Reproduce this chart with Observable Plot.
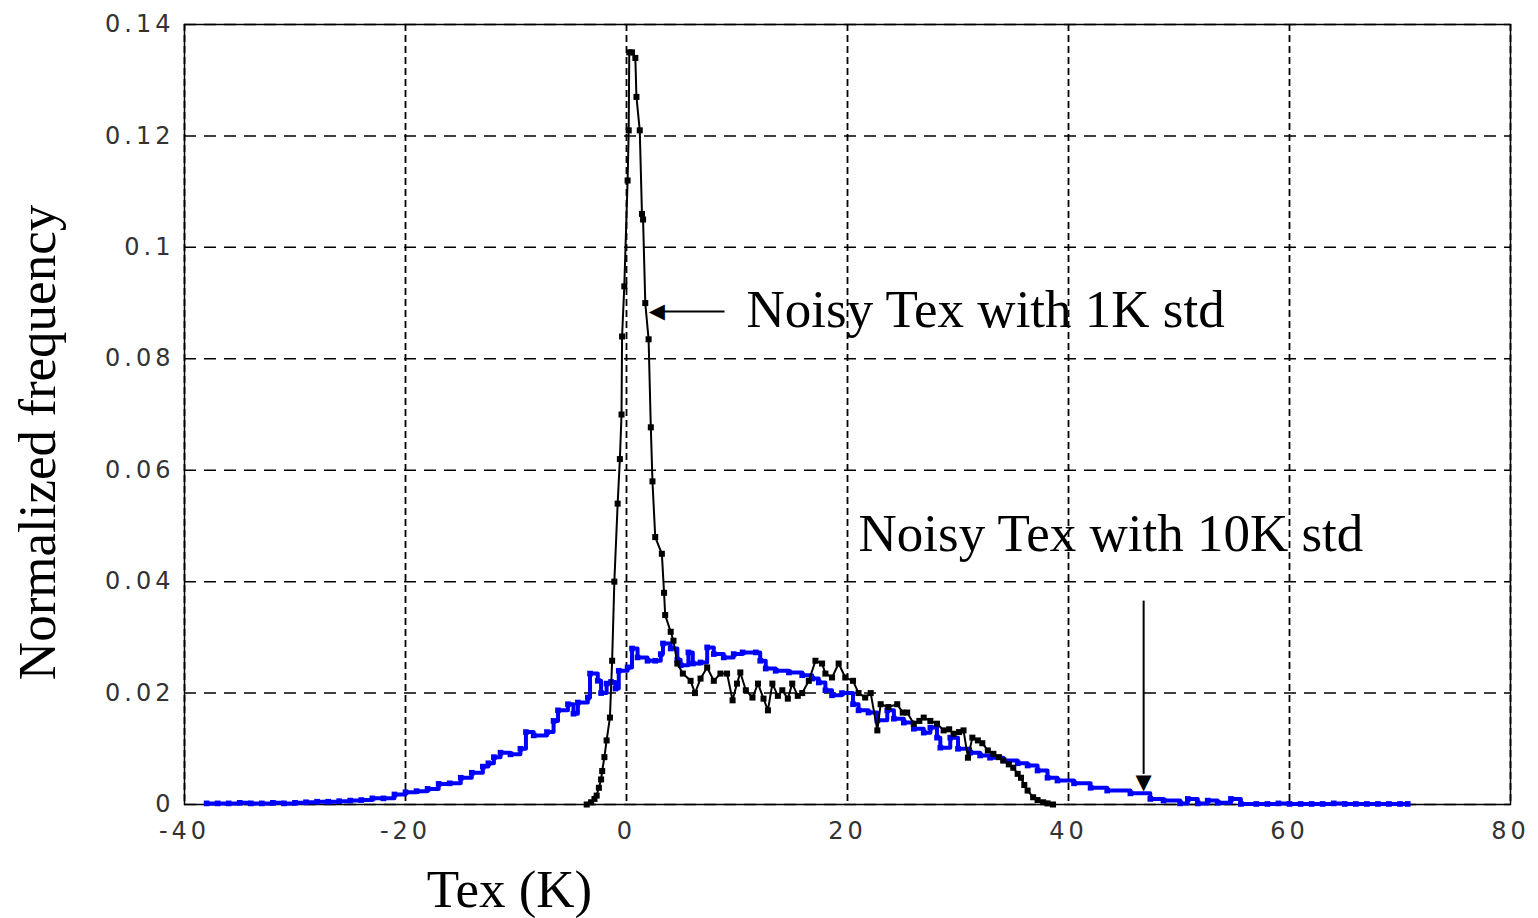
<!DOCTYPE html>
<html>
<head>
<meta charset="utf-8">
<script src="https://cdn.jsdelivr.net/npm/d3@7"></script>
<script src="https://cdn.jsdelivr.net/npm/@observablehq/plot@0.6"></script>
<style>
  html, body { margin: 0; padding: 0; background: #fff; }
  #chart svg { display: block; }
  g[aria-label="x-axis tick label"] text, g[aria-label="y-axis tick label"] text { letter-spacing: 4px; }
</style>
</head>
<body>
<div id="chart"></div>
<script>
// ---- data ----
const xTicks = [-40, -20, 0, 20, 40, 60, 80];
const yTicks = [0, 0.02, 0.04, 0.06, 0.08, 0.1, 0.12, 0.14];

// Noisy Tex with 1K std (black)
const blackX = [-3.6,-3.2,-2.9,-2.7,-2.5,-2.3,-2.2,-2.0,-1.8,-1.5,-1.3,-1.1,-0.8,-0.6,-0.45,-0.4,-0.2,0.1,0.2,0.25,0.5,0.8,0.9,1.2,1.4,1.5,1.7,2.0,2.2,2.35,2.6,3.2,3.4,3.5,4.0,4.25,4.6,5.1,5.8,6.2,6.7,7.3,7.9,8.5,9.1,9.6,10.0,10.3,10.8,11.4,11.9,12.4,12.8,13.2,13.7,14.1,14.6,15.0,15.5,15.9,16.5,17.1,17.7,18.0,18.6,19.2,19.8,20.5,21.0,21.6,22.1,22.7,23.0,23.7,24.5,25.0,25.4,26.0,26.5,26.9,27.5,28.1,28.7,29.2,29.6,30.1,30.5,30.9,31.3,31.8,32.2,32.7,33.2,33.7,34.1,34.6,35.0,35.4,35.7,36.0,36.3,36.8,37.2,37.7,38.1,38.6];
const blackY = [0,0.0004,0.001,0.0016,0.003,0.0045,0.006,0.0085,0.0115,0.0156,0.0258,0.040,0.054,0.062,0.070,0.084,0.093,0.112,0.121,0.135,0.135,0.134,0.127,0.121,0.106,0.105,0.090,0.0835,0.0677,0.058,0.048,0.045,0.038,0.034,0.031,0.0294,0.0253,0.0235,0.0222,0.020,0.0226,0.0246,0.0222,0.0235,0.0235,0.0187,0.0217,0.0237,0.0205,0.0192,0.0217,0.019,0.0169,0.0217,0.0195,0.0205,0.019,0.0217,0.0195,0.020,0.0222,0.0258,0.0253,0.0235,0.0228,0.0253,0.0228,0.0222,0.020,0.0192,0.020,0.0133,0.018,0.0175,0.018,0.0165,0.0165,0.0145,0.015,0.0156,0.015,0.0145,0.0133,0.0135,0.0127,0.013,0.0133,0.0084,0.012,0.0115,0.011,0.0097,0.0091,0.0085,0.0079,0.0072,0.0066,0.0055,0.0048,0.0035,0.0025,0.0013,0.0008,0.0004,0.0002,0];

// Noisy Tex with 10K std (blue)
const blueX = [-38,-37,-36,-35,-34,-33,-32,-31,-30,-29,-28,-27,-26,-25,-24,-23,-22,-21,-20,-19,-18,-17,-16,-15,-14,-13,-12.5,-12,-11.4,-10.5,-9.6,-9.1,-8.4,-7.2,-6.6,-6.2,-5.3,-4.8,-4.4,-3.5,-3.3,-2.6,-2.3,-1.8,-1.4,-1.0,-0.7,0.1,0.5,1.0,1.9,2.6,3.1,3.3,4.0,4.6,4.9,5.6,6.0,6.7,7.3,7.9,8.8,9.7,10.5,11.7,12.1,12.6,13.5,14.7,15.9,16.8,17.4,18.0,18.6,19.5,20.5,21.0,21.9,22.7,23.6,24.2,25.1,26.0,26.9,27.5,28.1,28.4,29.3,30.0,31.1,32.0,32.9,34.1,35.4,36.3,37.2,38.1,39.0,40.5,42,43.5,45.6,47.4,48.6,50.1,50.8,51.7,52.6,53.5,54.7,55.6,57,58,59,60,61,62,63,64,65,66,67,68,69,70,70.7];
const blueY = [0.0002,0.0002,0.0002,0.0003,0.0002,0.0002,0.0003,0.0002,0.0003,0.0004,0.0005,0.0005,0.0006,0.0007,0.0008,0.0011,0.0011,0.0018,0.0022,0.0024,0.0028,0.0037,0.0038,0.0048,0.0057,0.0068,0.0074,0.0085,0.0093,0.009,0.0100,0.013,0.0124,0.013,0.015,0.0169,0.018,0.0163,0.0183,0.0192,0.0235,0.0222,0.020,0.0217,0.022,0.0208,0.024,0.0246,0.028,0.0264,0.0258,0.0258,0.027,0.0289,0.028,0.026,0.025,0.0273,0.0253,0.0255,0.0282,0.027,0.0264,0.027,0.0273,0.0273,0.0258,0.0244,0.024,0.0237,0.0232,0.0226,0.0219,0.0205,0.0196,0.020,0.018,0.0169,0.0165,0.0151,0.0169,0.0154,0.0147,0.0136,0.0129,0.0138,0.012,0.0102,0.012,0.010,0.0093,0.0088,0.0084,0.0079,0.0074,0.007,0.0061,0.0048,0.0043,0.0038,0.003,0.0025,0.002,0.001,0.0007,0.0002,0.001,0.0002,0.0007,0.0003,0.001,0.0001,0.0001,0.0001,0.0002,0.0001,0.0001,0.0001,0.0001,0.0002,0.0001,0.0001,0.0001,0.0001,0.0001,0.0001,0.0001];

// annotations (data coordinates)
const notes = [
  {x: 10.86, y: 0.0887, label: "Noisy Tex with 1K std"},
  {x: 21.0, y: 0.0486, label: "Noisy Tex with 10K std"}
];
const arrowShafts = [
  {x1: 8.87, y1: 0.0885, x2: 3.0, y2: 0.0885},
  {x1: 46.8, y1: 0.0366, x2: 46.8, y2: 0.0055}
];
const arrowHeads = [
  {x: 2.75, y: 0.0885, glyph: "◀"},
  {x: 46.8, y: 0.0040, glyph: "▼"}
];

const black = blackX.map((x, i) => ({x, y: blackY[i]}));
const blue = blueX.map((x, i) => ({x, y: blueY[i]}));

const serif = "'Liberation Serif', 'Times New Roman', serif";

const chart = Plot.plot({
  width: 1538,
  height: 918,
  marginLeft: 184,
  marginRight: 28,
  marginTop: 24,
  marginBottom: 114,
  style: {fontFamily: "'DejaVu Sans', sans-serif", fontSize: "24px", color: "#333", background: "#fff", overflow: "visible"},
  x: {domain: [-40, 80], ticks: xTicks, tickFormat: d => String(d), tickSize: 0, tickPadding: 17, label: null},
  y: {domain: [0, 0.14], ticks: yTicks, tickFormat: d => String(+d.toFixed(2)), tickSize: 0, tickPadding: 10, label: null},
  marks: [
    Plot.gridY(yTicks, {stroke: "#000", strokeOpacity: 1, strokeWidth: 1.5, strokeDasharray: "12,8"}),
    Plot.gridX(xTicks, {stroke: "#000", strokeOpacity: 1, strokeWidth: 1.8, strokeDasharray: "7,4"}),
    Plot.frame({stroke: "#000", strokeWidth: 1.5}),
    Plot.line(blue, {x: "x", y: "y", stroke: "#0000ff", strokeWidth: 4, curve: "step-after"}),
    Plot.dot(blue, {x: "x", y: "y", symbol: "square", r: 3.2, fill: "#0000ff"}),
    Plot.line(black, {x: "x", y: "y", stroke: "#000", strokeWidth: 2}),
    Plot.dot(black, {x: "x", y: "y", symbol: "square", r: 3.4, fill: "#000"}),
    Plot.link(arrowShafts, {x1: "x1", y1: "y1", x2: "x2", y2: "y2", stroke: "#000", strokeWidth: 2}),
    Plot.text(arrowHeads, {x: "x", y: "y", text: "glyph", fontSize: 21, fill: "#000", fontFamily: "'DejaVu Sans', sans-serif", lineAnchor: "middle"}),
    Plot.text(notes, {x: "x", y: "y", text: "label", textAnchor: "start", lineAnchor: "middle", fontSize: 53, fontFamily: serif, fill: "#000"}),
    Plot.text(["Normalized frequency"], {frameAnchor: "left", rotate: -90, dx: -146, dy: 28, textAnchor: "middle", lineAnchor: "middle", fontSize: 53, fontFamily: serif, fill: "#000"}),
    Plot.text(["Tex (K)"], {frameAnchor: "bottom-left", dx: 325, dy: 86, textAnchor: "middle", lineAnchor: "middle", fontSize: 53, fontFamily: serif, fill: "#000"})
  ]
});
document.getElementById("chart").appendChild(chart);
</script>
</body>
</html>
